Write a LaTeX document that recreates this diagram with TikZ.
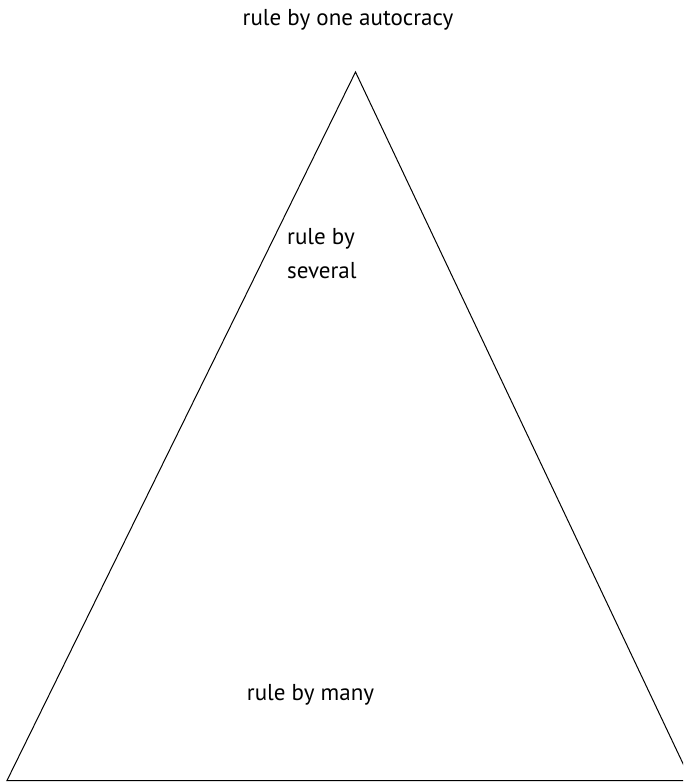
\documentclass[tikz,border=0pt]{standalone}
\usepackage{fontspec}
\setmainfont{PT Sans}
\begin{document}
\begin{tikzpicture}[x=1pt,y=-1pt,
  lbl/.style={font=\fontsize{23}{34}\selectfont, inner sep=0pt, align=left},
  edge/.style={draw=black, line width=1pt}]
\useasboundingbox (0,0) rectangle (683,782);
\begin{scope}
\clip (0,0) rectangle (683,782);
\coordinate (apex) at (355.5,72);
\coordinate (bl) at (7,780.5);
\coordinate (br) at (691,780.5);
\draw[edge] (apex) -- (bl) -- (br) -- cycle;
\end{scope}
\node[lbl, anchor=base] (top) at (348,25) {rule by one autocracy};
\node[lbl, anchor=west] (several) at (287,254) {rule by\\several};
\node[lbl, anchor=base] (many) at (310.5,700) {rule by many};
\end{tikzpicture}
\end{document}
